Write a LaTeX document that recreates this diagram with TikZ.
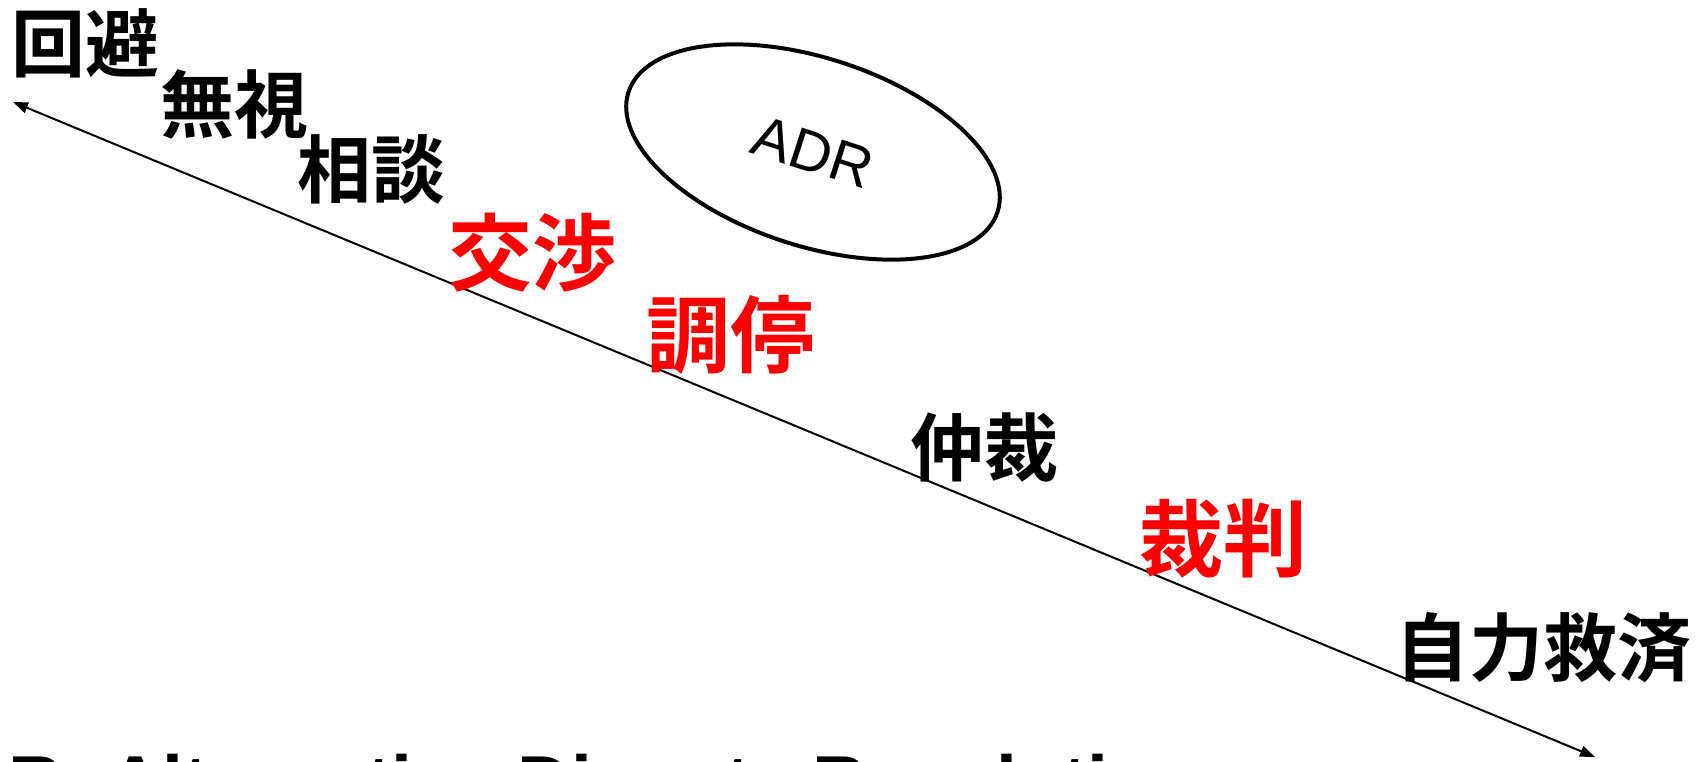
\documentclass[tikz,border=0pt]{standalone}
\usepackage{fontspec}
\setmainfont{Liberation Sans}
\newfontfamily\cjk{Noto Sans CJK JP}[BoldFont={* Bold}]
\usetikzlibrary{arrows.meta,shapes.geometric}
\begin{document}
\begin{tikzpicture}[x=1pt,y=-1pt,
  blk/.style={inner sep=0pt, font=\cjk\bfseries\fontsize{74}{80}\selectfont, text=black},
  redw/.style={inner sep=0pt, font=\cjk\bfseries\fontsize{84}{90}\selectfont, text=red},
  axis/.style={line width=2pt, {Triangle[length=15pt,width=11pt]}-{Triangle[length=15pt,width=11pt]}},
  adrbox/.style={ellipse, draw, line width=4pt, minimum width=388pt, minimum height=188pt, inner sep=0pt,
    font=\fontsize{58}{62}\selectfont},
  foot/.style={inner sep=0pt, anchor=base west, font=\bfseries\fontsize{75}{80}\selectfont}
]
\useasboundingbox[fill=white] (0,0) rectangle (1703,761);
\coordinate (start) at (13,102);
\coordinate (end) at (1595,757);
\draw[axis] (start) -- (end);
\node[blk] (kaihi) at (86,43.5) {回避};
\node[blk] (mushi) at (234,104) {無視};
\node[blk] (sodan) at (371.5,169) {相談};
\node[redw] (kosho) at (532.5,252.5) {交渉};
\node[redw] (chotei) at (730.5,335) {調停};
\node[blk] (chusai) at (984.5,448) {仲裁};
\node[redw] (saiban) at (1223.5,538.5) {裁判};
\node[blk] (jiriki) at (1543.5,647.5) {自力救済};
\node[adrbox, rotate=-18] (adr) at (813,152) {ADR};
\node[foot] (title) at (8.5,808) {R: Alternative Dispute Resolution};
\end{tikzpicture}
\end{document}
